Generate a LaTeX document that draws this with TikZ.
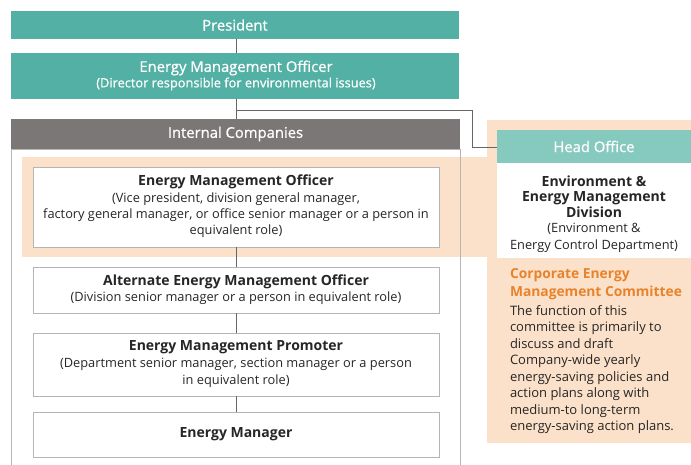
\documentclass[tikz,border=0pt]{standalone}
\usepackage{fontspec}
\setmainfont{Open Sans}
\newfontfamily\medfont[FakeBold=0.8]{Open Sans}
\begin{document}
\begin{tikzpicture}[x=1pt,y=-1pt,
  every node/.style={inner sep=0pt,outer sep=0pt},
  teal/.style={fill=tealc,draw=none},
  wbox/.style={fill=white,draw=boxline,line width=0.8pt},
  conn/.style={draw=lineg,line width=0.9pt},
  hdr/.style={font=\fontsize{14.8}{17}\selectfont\medfont,text=white},
  ttl/.style={font=\fontsize{14}{16}\selectfont\bfseries,text=txt,align=center},
  sub/.style={font=\fontsize{12.8}{16}\selectfont,text=txt,align=center},
]
\definecolor{tealc}{HTML}{52B0A4}
\definecolor{tealh}{HTML}{86C9BF}
\definecolor{greyh}{HTML}{7B7777}
\definecolor{orng}{HTML}{FBE1CA}
\definecolor{orngt}{HTML}{E8832B}
\definecolor{txt}{HTML}{262626}
\definecolor{boxline}{HTML}{B5B5B5}
\definecolor{lineg}{HTML}{666666}
\useasboundingbox (0,0) rectangle (691,464);
\fill[white] (0,0) rectangle (691,464);
% orange panels
\fill[orng] (22,157) rectangle (488,257);
\fill[orng] (487,120) rectangle (691,443);
% top bars
\node[teal,minimum width=448,minimum height=28,anchor=north west] (pres) at (11,11) {};
\node[hdr] at (pres.center) {President};
\node[teal,minimum width=448,minimum height=46,anchor=north west] (emo) at (11,53) {};
\node[hdr] at (236,68) {Energy Management Officer};
\node[font=\fontsize{12.8}{15}\selectfont\medfont,text=white] at (236,84) {(Director responsible for environmental issues)};
% internal companies outer box
\draw[draw=boxline,line width=0.8pt] (11,149) rectangle (460,470);
\node[fill=greyh,minimum width=449,minimum height=30,anchor=north west] (ic) at (11,119) {};
\node[hdr] at (ic.center) {Internal Companies};
% connectors
\coordinate (b1) at (236,110);
\coordinate (b2) at (472,110);
\coordinate (b3) at (472,147);
\draw[conn] (pres.south -| b1) -- (emo.north -| b1);
\draw[conn] (emo.south -| b1) -- (ic.north -| b1);
% inner boxes
\node[wbox,minimum width=406,minimum height=80,anchor=north west] (o1) at (33,167) {};
\node[ttl] at (236,182) {Energy Management Officer};
\node[sub,anchor=north] at (236,193) {(Vice president, division general manager,\\factory general manager, or office senior manager or a person in\\equivalent role)};
\node[wbox,minimum width=406,minimum height=46,anchor=north west] (o2) at (33,267) {};
\node[ttl] at (236,282) {Alternate Energy Management Officer};
\node[sub] at (236,298) {(Division senior manager or a person in equivalent role)};
\node[wbox,minimum width=406,minimum height=63,anchor=north west] (o3) at (33,333) {};
\node[ttl] at (236,347) {Energy Management Promoter};
\node[sub,anchor=north,font=\fontsize{12.8}{17}\selectfont] at (236,358) {(Department senior manager, section manager or a person\\in equivalent role)};
\node[wbox,minimum width=406,minimum height=45,anchor=north west] (o4) at (33,412) {};
\node[ttl] at (o4.center) {Energy Manager};
\draw[conn] (o1.south) -- (o2.north);
\draw[conn] (o2.south) -- (o3.north);
\draw[conn] (o3.south) -- (o4.north);
% head office
\node[fill=tealh,minimum width=194,minimum height=33,anchor=north west] (ho) at (497,130) {};
\node[hdr] at (ho.center) {Head Office};
\node[fill=white,minimum width=194,minimum height=95,anchor=north west] (hob) at (497,163) {};
\node[ttl,anchor=north,font=\fontsize{14}{15.2}\selectfont\bfseries] at (594,176) {Environment \&\\Energy Management\\Division};
\node[sub,anchor=north,font=\fontsize{12.8}{16.8}\selectfont] at (594,223.5) {(Environment \&\\Energy Control Department)};
\draw[conn] (b1) -- (b2) -- (b3) -- (ho.west |- b3);
% committee
\node[anchor=north west,align=left,text=orngt,font=\fontsize{13.8}{18}\selectfont\bfseries] (cm) at (510,269) {Corporate Energy\\Management Committee};
\node[anchor=north west,align=left,text=txt,font=\fontsize{13}{16.5}\selectfont] (cmt) at (510,305.5) {The function of this\\committee is primarily to\\discuss and draft\\Company-wide yearly\\energy-saving policies and\\action plans along with\\medium-to long-term\\energy-saving action plans.};
\end{tikzpicture}
\end{document}
